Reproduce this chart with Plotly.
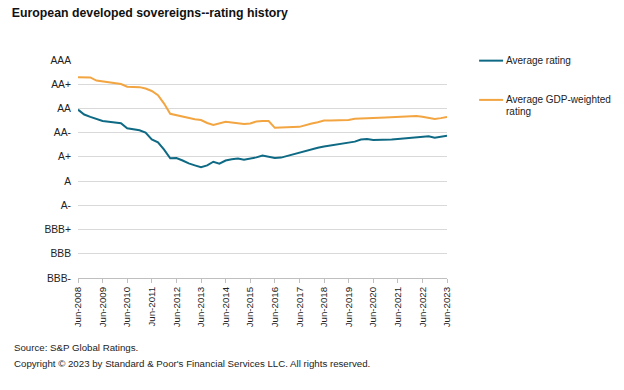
import pandas as pd
import plotly.graph_objects as go

# Rating scale (BBB- = 1 ... AAA = 10)
rating_labels = ["BBB-", "BBB", "BBB+", "A-", "A", "A+", "AA-", "AA", "AA+", "AAA"]
rating_values = list(range(1, 11))

# Quarterly observations, Jun-2008 .. Jun-2023
dates = pd.date_range("2008-06-01", periods=61, freq="3MS")

avg_rating = [
    7.95, 7.75, 7.65,
    7.57, 7.48, 7.45, 7.42,
    7.39, 7.18, 7.14, 7.10,
    7.00, 6.72, 6.60, 6.30,
    5.94, 5.95, 5.85, 5.73,
    5.65, 5.57, 5.65, 5.80,
    5.72, 5.85, 5.90, 5.93,
    5.88, 5.92, 5.98, 6.06,
    6.00, 5.95, 5.97, 6.04,
    6.10, 6.18, 6.25, 6.33,
    6.38, 6.43, 6.47, 6.50,
    6.53, 6.57, 6.63, 6.72,
    6.74, 6.70, 6.70, 6.71,
    6.72, 6.74, 6.76, 6.77,
    6.79, 6.81, 6.85, 6.79,
    6.82, 6.87,
]

gdp_weighted = [
    9.29, 9.29, 9.28,
    9.15, 9.12, 9.08, 9.05,
    9.01, 8.90, 8.90, 8.88,
    8.82, 8.72, 8.55, 8.20,
    7.78, 7.72, 7.68, 7.60,
    7.55, 7.52, 7.40, 7.32,
    7.40, 7.45, 7.42, 7.38,
    7.36, 7.38, 7.46, 7.48,
    7.48, 7.20, 7.20, 7.22,
    7.23, 7.24, 7.32, 7.38,
    7.43, 7.50, 7.50, 7.50,
    7.51, 7.52, 7.57, 7.59,
    7.60, 7.61, 7.62, 7.63,
    7.64, 7.66, 7.67, 7.68,
    7.69, 7.66, 7.60, 7.56,
    7.60, 7.65,
]

series_names = ["Average rating", "Average GDP-weighted rating"]
legend_lines = [["Average rating"], ["Average GDP-weighted", "rating"]]

tick_years = list(range(2008, 2024))
tick_dates = [f"{y}-06-01" for y in tick_years]
tick_text = [f"Jun-{y}" for y in tick_years]

FONT = "Liberation Sans, Arial, sans-serif"
TEAL = "#0e6a84"
ORANGE = "#f2a541"
TXT = "#222222"

fig = go.Figure()
fig.add_trace(go.Scatter(x=dates, y=avg_rating, mode="lines", name=series_names[0],
                         line=dict(color=TEAL, width=2)))
fig.add_trace(go.Scatter(x=dates, y=gdp_weighted, mode="lines", name=series_names[1],
                         line=dict(color=ORANGE, width=2)))

fig.update_layout(
    width=624, height=390,
    paper_bgcolor="white", plot_bgcolor="white",
    margin=dict(l=78, r=177, t=60, b=112, autoexpand=False),
    font=dict(family=FONT, size=10, color=TXT),
    title=dict(text="<b>European developed sovereigns--rating history</b>",
               x=0.019, xanchor="left", y=0.967, yanchor="middle",
               font=dict(size=12.3, color="#111111", family=FONT)),
    showlegend=False,
)
fig.update_yaxes(range=[1, 10], tickvals=rating_values, ticktext=rating_labels,
                 showgrid=True, gridcolor="#d9d9d9", gridwidth=1, automargin=False,
                 zeroline=False, showline=False, ticks="", ticklen=0,
                 ticklabelstandoff=6,
                 tickfont=dict(size=10.3, color=TXT))
fig.update_xaxes(type="date", range=["2008-06-01", "2023-06-01"], automargin=False,
                 tickvals=tick_dates, ticktext=tick_text, tickangle=-90,
                 showgrid=False, showline=True, linecolor="#bfbfbf", linewidth=1,
                 ticks="outside", ticklen=4, tickcolor="#bfbfbf",
                 tickfont=dict(size=9.7, color=TXT))

# Manual legend (paper coordinates)
legend_rows = [(0.997, TEAL, [0.997]), (0.817, ORANGE, [0.817, 0.765])]
for (ly, col, text_ys), lines in zip(legend_rows, legend_lines):
    fig.add_shape(type="line", xref="paper", yref="paper",
                  x0=1.087, x1=1.152, y0=ly, y1=ly, line=dict(color=col, width=2))
    for ty, txt in zip(text_ys, lines):
        fig.add_annotation(text=txt, xref="paper", yref="paper", x=1.155, y=ty,
                           xanchor="left", yanchor="middle", align="left",
                           showarrow=False, font=dict(size=10, color=TXT))

fig.add_annotation(text="Source: S&P Global Ratings.", xref="paper", yref="paper",
                   x=-0.179, y=-0.321, xanchor="left", yanchor="middle",
                   showarrow=False, font=dict(size=9.7, color=TXT))
fig.add_annotation(text="Copyright © 2023 by Standard & Poor's Financial Services LLC. All rights reserved.",
                   xref="paper", yref="paper", x=-0.179, y=-0.39,
                   xanchor="left", yanchor="middle",
                   showarrow=False, font=dict(size=9.7, color=TXT))

fig.write_html("out.html", config={"displayModeBar": False},
               post_script="document.body.style.margin='0';")
